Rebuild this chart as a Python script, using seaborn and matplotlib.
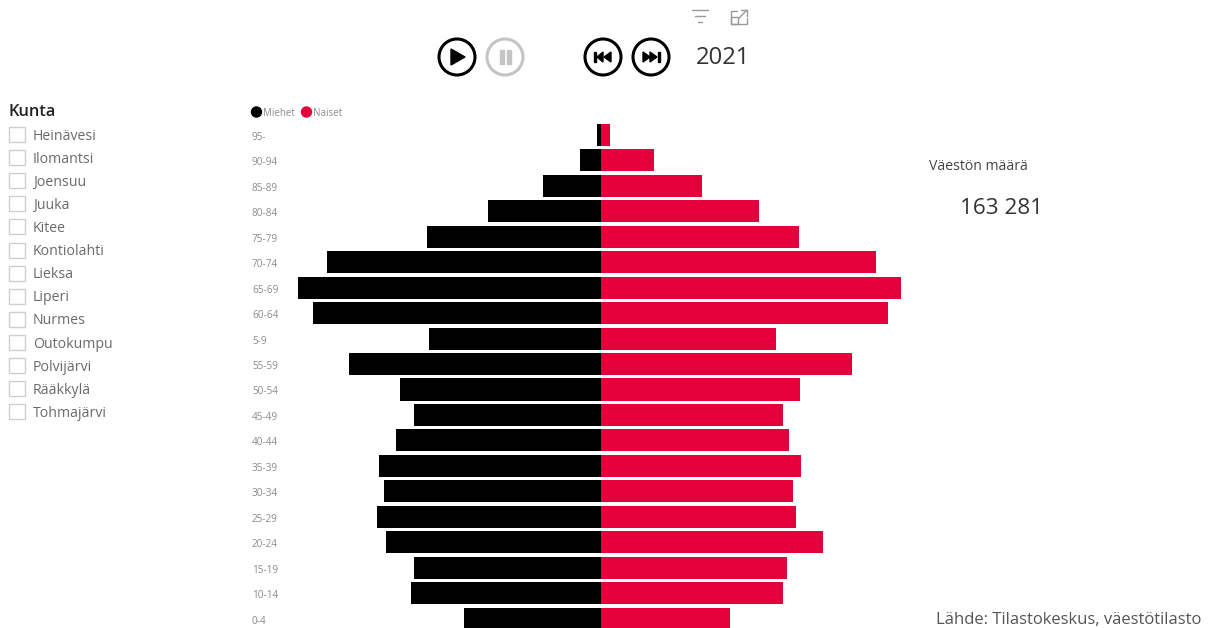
import matplotlib
matplotlib.use("Agg")
import matplotlib.pyplot as plt
import matplotlib.transforms as mtrans
import seaborn as sns
import pandas as pd
from matplotlib.patches import Circle, Rectangle, Polygon

ages = ["95-", "90-94", "85-89", "80-84", "75-79", "70-74", "65-69", "60-64", "5-9", "55-59",
        "50-54", "45-49", "40-44", "35-39", "30-34", "25-29", "20-24", "15-19", "10-14", "0-4"]
men = [90, 470, 1290, 2520, 3880, 6110, 6760, 6420, 3840, 5620,
       4480, 4170, 4570, 4950, 4840, 4980, 4790, 4170, 4240, 3050]
women = [200, 1180, 2250, 3520, 4420, 6130, 6690, 6400, 3900, 5600,
         4440, 4060, 4190, 4460, 4280, 4350, 4950, 4150, 4060, 2880]
municipalities = ["Heinävesi", "Ilomantsi", "Joensuu", "Juuka", "Kitee", "Kontiolahti", "Lieksa",
                  "Liperi", "Nurmes", "Outokumpu", "Polvijärvi", "Rääkkylä", "Tohmajärvi"]
series_names = ["Miehet", "Naiset"]
palette = {"Miehet": "#000000", "Naiset": "#E4003A"}

sns.set_theme(style="white")
plt.rcParams["font.family"] = ["Open Sans", "DejaVu Sans"]

W, H = 1210, 628
fig = plt.figure(figsize=(W / 100, H / 100), dpi=100, facecolor="white")

# overlay in pixel coordinates for the report furniture
bg = fig.add_axes([0, 0, 1, 1])
bg.set_xlim(0, W)
bg.set_ylim(H, 0)
bg.axis("off")

# chart axes: left 252 px, top 122 px, to bottom edge of the figure
left, right, top, bottom = 252, 1000, 122, 628
ax = fig.add_axes([left / W, 1 - bottom / H, (right - left) / W, (bottom - top) / H])
ax.patch.set_alpha(0)

df = pd.DataFrame({
    "age": ages * 2,
    "sex": [series_names[0]] * len(ages) + [series_names[1]] * len(ages),
    "value": [-v for v in men] + women,
})
sns.barplot(data=df, y="age", x="value", hue="sex", order=ages, palette=palette,
            dodge=False, width=0.865, legend=False, ax=ax, orient="y", saturation=1,
            linewidth=0, edgecolor="none")

per_px = 22.3
center = 600.7
ax.set_xlim((left - center) * per_px, (right - center) * per_px)
pitch = 25.45
first_y = 135
ax.set_ylim((bottom - first_y) / pitch, (top - first_y) / pitch)
ax.set_xlabel("")
ax.set_ylabel("")
ax.set_xticks([])
ax.tick_params(axis="y", length=0, pad=0, labelsize=7.2, labelcolor="#8c8c8c")
down = mtrans.ScaledTranslation(0, -1 / 100, fig.dpi_scale_trans)
for lab in ax.get_yticklabels():
    lab.set_ha("left")
    lab.set_transform(lab.get_transform() + down)
sns.despine(ax=ax, left=True, bottom=True)

# legend
bg.add_patch(Circle((256.5, 112), 5, color="#000000"))
bg.text(263.5, 113, series_names[0], fontsize=7.0, color="#8c8c8c", va="center")
bg.add_patch(Circle((306.5, 112), 5, color="#E4003A"))
bg.text(313.5, 113, series_names[1], fontsize=7.0, color="#8c8c8c", va="center")

# slicer
bg.text(9, 111.5, "Kunta", fontsize=11.8, color="#222222", va="center", fontweight="semibold")
for i, name in enumerate(municipalities):
    y = 135 + i * 23.1
    bg.add_patch(Rectangle((9, y - 8), 16, 15, fill=False, ec="#cfcfcf", lw=1))
    bg.text(33, y + 1.2, name, fontsize=10.2, color="#6a6a6a", va="center")

# KPI and source
bg.text(929, 166.8, "Väestön määrä", fontsize=10.1, color="#444444", va="center")
bg.text(960, 209, "163 281", fontsize=16.2, color="#333333", va="center")
bg.text(936, 620, "Lähde: Tilastokeskus, väestötilasto", fontsize=12, color="#555555", va="center")
bg.text(696, 57.5, "2021", fontsize=17.2, color="#333333", va="center")

# play controls
def ring(x, col):
    bg.add_patch(Circle((x, 57), 18, fill=False, ec=col, lw=2.2))

ring(457, "#000000")
bg.add_patch(Polygon([(451, 49), (451, 65), (465, 57)], color="#000000"))
ring(505, "#c4c4c4")
bg.add_patch(Rectangle((499.5, 50), 4, 14, color="#c4c4c4"))
bg.add_patch(Rectangle((506.5, 50), 4, 14, color="#c4c4c4"))
ring(603, "#000000")
bg.add_patch(Rectangle((594, 52), 2.2, 10, color="#000000"))
bg.add_patch(Polygon([(603, 52), (603, 62), (597, 57)], color="#000000"))
bg.add_patch(Polygon([(611, 52), (611, 62), (604, 57)], color="#000000"))
ring(651, "#000000")
bg.add_patch(Polygon([(643, 52), (643, 62), (650, 57)], color="#000000"))
bg.add_patch(Polygon([(650, 52), (650, 62), (657, 57)], color="#000000"))
bg.add_patch(Rectangle((657.5, 52), 2.2, 10, color="#000000"))

# header icons
for y, x0, x1 in [(10, 692, 708), (16, 695, 705), (22, 698, 702)]:
    bg.plot([x0, x1], [y, y], color="#9a9a9a", lw=1)
bg.plot([737, 731, 731, 747, 747], [11, 11, 24, 24, 18], color="#9a9a9a", lw=1)
bg.add_patch(Rectangle((731, 17), 7, 7, fill=False, ec="#9a9a9a", lw=1))
bg.plot([741, 747, 747], [10, 10, 16], color="#9a9a9a", lw=1)
bg.plot([739, 747], [18, 10], color="#9a9a9a", lw=1)

fig.savefig("out.png", dpi=100, facecolor="white")
